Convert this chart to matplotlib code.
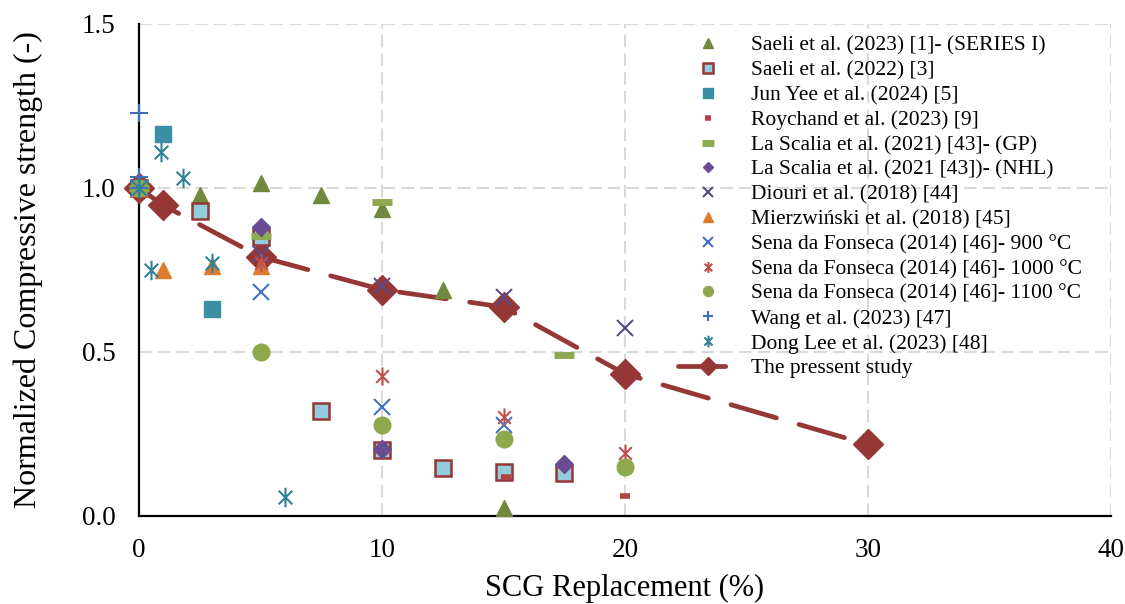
import matplotlib
matplotlib.use("Agg")
import matplotlib.pyplot as plt
from matplotlib.path import Path

plt.rcParams['font.family'] = ['Liberation Serif', 'DejaVu Serif']

# data
saeli23_x = [0, 2.5, 5, 7.5, 10, 12.5, 15]
saeli23_y = [1.0, 0.98, 1.015, 0.98, 0.935, 0.69, 0.025]
saeli22_x = [0, 2.5, 5, 7.5, 10, 12.5, 15, 17.5]
saeli22_y = [1.0, 0.93, 0.85, 0.32, 0.20, 0.145, 0.133, 0.13]
junyee_x = [0, 1, 3]
junyee_y = [1.0, 1.165, 0.63]
roychand_x = [0, 15.1, 20]
roychand_y = [1.0, 0.118, 0.062]
scalia_gp_x = [0, 5, 10, 17.5]
scalia_gp_y = [1.0, 0.855, 0.958, 0.49]
scalia_nhl_x = [0, 5, 10, 17.5]
scalia_nhl_y = [1.0, 0.88, 0.205, 0.157]
diouri_x = [0, 5, 10, 15, 20]
diouri_y = [1.0, 0.80, 0.70, 0.667, 0.572]
mierz_x = [0, 1, 3, 5]
mierz_y = [1.0, 0.75, 0.763, 0.762]
sena900_x = [0, 5, 10, 15]
sena900_y = [1.0, 0.684, 0.332, 0.278]
sena1000_x = [0, 5, 10, 15, 20]
sena1000_y = [1.0, 0.77, 0.427, 0.302, 0.193]
sena1100_x = [0, 5, 10, 15, 20]
sena1100_y = [1.0, 0.50, 0.277, 0.235, 0.149]
wang_x = [0, 0, 0]
wang_y = [1.0, 1.035, 1.23]
donglee_x = [0, 0.5, 0.9, 1.8, 3, 6]
donglee_y = [1.0, 0.75, 1.11, 1.03, 0.77, 0.058]
present_x = [0, 1, 5, 10, 15, 20, 30]
present_y = [1.0, 0.947, 0.79, 0.69, 0.637, 0.433, 0.218]

# excel-like asterisk (x plus vertical bar)
ast = Path([(0, -1), (0, 1), (-0.7, -0.7), (0.7, 0.7), (-0.7, 0.7), (0.7, -0.7)],
           [Path.MOVETO, Path.LINETO] * 3)

fig = plt.figure(figsize=(11.25, 6.04), dpi=100)
ax = fig.add_axes([0.1236, 0.1457, 0.8640, 0.8146])


def pts(x, y, label, **kw):
    ax.plot(x, y, ls='none', label=label, clip_on=False, zorder=3, **kw)


pts(saeli23_x, saeli23_y, 'Saeli et al. (2023) [1]- (SERIES I)',
    marker='^', ms=12, color='#71893F', mec='#71893F')
pts(saeli22_x, saeli22_y, 'Saeli et al. (2022) [3]',
    marker='s', ms=11, mfc='#93CDDD', mec='#953735', mew=1.8)
pts(junyee_x, junyee_y, 'Jun Yee et al. (2024) [5]',
    marker='s', ms=12, color='#3A8FA5')
pts(roychand_x, roychand_y, 'Roychand et al. (2023) [9]',
    marker='_', ms=7, mew=4, color='#B4413F')
pts(scalia_gp_x, scalia_gp_y, 'La Scalia et al. (2021) [43]- (GP)',
    marker='_', ms=15, mew=5, color='#8EAA52')
pts(scalia_nhl_x, scalia_nhl_y, 'La Scalia et al. (2021 [43])- (NHL)',
    marker='D', ms=9, color='#6A4C92')
pts(diouri_x, diouri_y, 'Diouri et al. (2018) [44]',
    marker='x', ms=12, mew=1.5, color='#5B4A8A')
pts(mierz_x, mierz_y, 'Mierzwiński et al. (2018) [45]',
    marker='^', ms=12, color='#DC7B2E')
pts(sena900_x, sena900_y, 'Sena da Fonseca (2014) [46]- 900 °C',
    marker='x', ms=11, mew=1.5, color='#4472C4')
pts(sena1000_x, sena1000_y, 'Sena da Fonseca (2014) [46]- 1000 °C',
    marker=ast, ms=13, mew=1.5, mfc='none', mec='#C0504D')
pts(sena1100_x, sena1100_y, 'Sena da Fonseca (2014) [46]- 1100 °C',
    marker='o', ms=12, color='#8CAA4C')
pts(wang_x, wang_y, 'Wang et al. (2023) [47]',
    marker='+', ms=13, mew=1.5, color='#3F6DB8')
pts(donglee_x, donglee_y, 'Dong Lee et al. (2023) [48]',
    marker=ast, ms=14, mew=1.5, mfc='none', mec='#2F8296')

ax.plot(present_x, present_y, color='#953735', lw=3.4, dashes=(10, 5),
        dash_capstyle='round', marker='D', ms=15, clip_on=False, zorder=2,
        label='The pressent study')

ax.set_xlim(0, 40)
ax.set_ylim(0, 1.5)
ax.set_xticks([0, 10, 20, 30, 40])
ax.set_yticks([0, 0.5, 1.0, 1.5])
ax.set_yticklabels(['0.0', '0.5', '1.0', '1.5'])
ax.tick_params(length=0, labelsize=19.5)
ax.tick_params(axis='x', pad=16)
ax.tick_params(axis='y', pad=17)
ax.grid(True, color='#D9D9D9', lw=1.5, dashes=(6, 3))
ax.set_axisbelow(True)
for s in ['top', 'right']:
    ax.spines[s].set_visible(False)
for s in ['left', 'bottom']:
    ax.spines[s].set_linewidth(1.6)
    ax.spines[s].set_zorder(1)

ax.set_xlabel('SCG Replacement (%)', fontsize=22, labelpad=8)
ax.set_ylabel('Normalized Compressive strength (-)', fontsize=23, labelpad=28)

ax.legend(loc='upper left', bbox_to_anchor=(0.595, 0.955), bbox_transform=fig.transFigure,
          frameon=False, fontsize=15.5, markerscale=0.6, handlelength=2.8,
          handletextpad=0.6, labelspacing=0.22, borderaxespad=0)

fig.savefig('out.png', dpi=100)
